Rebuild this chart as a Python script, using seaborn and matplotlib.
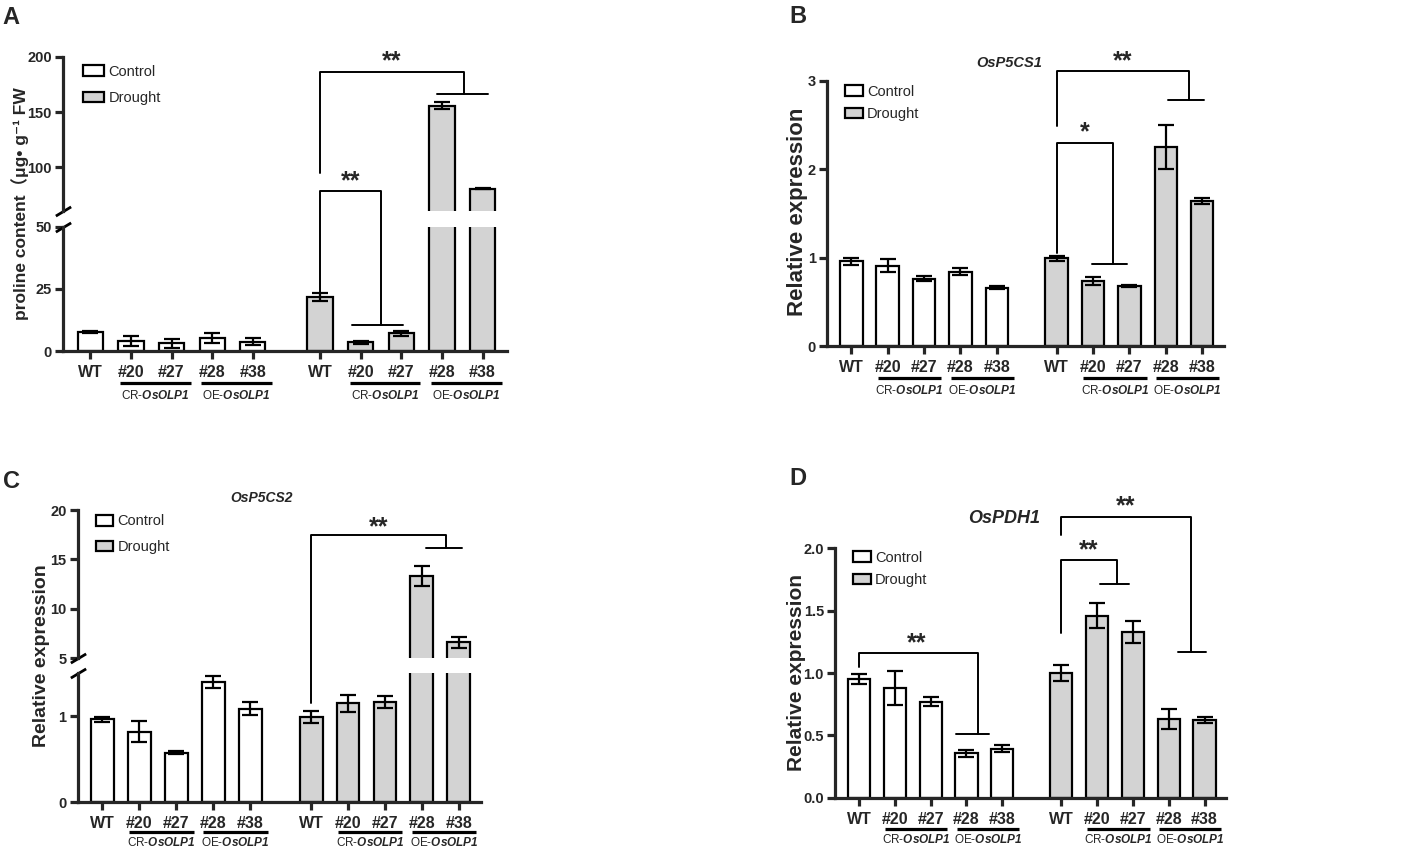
import numpy as np
import pandas as pd
import matplotlib.pyplot as plt
import seaborn as sns
from matplotlib.lines import Line2D
from matplotlib.patches import Patch
from matplotlib.ticker import FormatStrFormatter
from matplotlib.transforms import ScaledTranslation

# ---- data ----
lines = ['WT', '#20', '#27', '#28', '#38']
conditions = ['Control', 'Drought']

proline_ctrl = [7.7, 4.2, 3.2, 5.4, 3.8]
proline_ctrl_err = [0.5, 2.0, 1.8, 2.0, 1.5]
proline_drought = [21.6, 3.5, 7.1, 156.0, 80.8]
proline_drought_err = [1.6, 0.5, 1.0, 3.0, 0.5]

p5cs1_ctrl = [0.96, 0.91, 0.76, 0.84, 0.66]
p5cs1_ctrl_err = [0.04, 0.07, 0.03, 0.04, 0.02]
p5cs1_drought = [0.99, 0.74, 0.68, 2.25, 1.64]
p5cs1_drought_err = [0.03, 0.045, 0.01, 0.25, 0.03]

p5cs2_ctrl = [0.965, 0.82, 0.577, 1.40, 1.09]
p5cs2_ctrl_err = [0.03, 0.12, 0.02, 0.07, 0.08]
p5cs2_drought = [0.99, 1.15, 1.17, 13.32, 6.62]
p5cs2_drought_err = [0.07, 0.095, 0.07, 1.05, 0.57]

pdh1_ctrl = [0.95, 0.88, 0.77, 0.356, 0.394]
pdh1_ctrl_err = [0.04, 0.135, 0.035, 0.03, 0.03]
pdh1_drought = [1.0, 1.46, 1.33, 0.63, 0.626]
pdh1_drought_err = [0.065, 0.10, 0.09, 0.08, 0.025]

# bar slots: control group, gap, drought group
ctrl_pos = [0, 1, 2, 3, 4]
drought_pos = [5.65, 6.65, 7.65, 8.65, 9.65]

# significance brackets: ref x, start, top, drop x, group y, group x0, x1, star x, star y, label
brackets_a = [(5.65, 94.8, 186.4, 9.19, 166.5, 8.54, 9.78, 7.42, 196.0, '**'),
              (5.65, 23.4, 78.5, 7.14, 10.5, 6.44, 7.68, 6.40, 87.0, '**')]
brackets_b = [(5.65, 2.49, 3.11, 9.29, 2.78, 8.72, 9.70, 7.47, 3.22, '**'),
              (5.65, 1.05, 2.29, 7.20, 0.93, 6.63, 7.58, 6.41, 2.42, '*')]
brackets_c = [(5.65, 1.15, 17.47, 9.29, 16.12, 8.75, 9.73, 7.48, 18.2, '**')]
brackets_d = [(0.00, 1.05, 1.158, 3.31, 0.508, 2.71, 3.64, 1.62, 1.24, '**'),
              (5.65, 1.318, 1.91, 7.20, 1.714, 6.74, 7.53, 6.40, 1.985, '**'),
              (5.65, 2.11, 2.25, 9.26, 1.166, 8.92, 9.70, 7.46, 2.335, '**')]

GRAY = '#d3d3d3'
W, H = 1418, 847

sns.set_theme(style='ticks')
plt.rcParams['font.family'] = ['Liberation Sans', 'DejaVu Sans', 'Noto Sans CJK SC']
plt.rcParams['mathtext.fontset'] = 'custom'
plt.rcParams['mathtext.it'] = 'Liberation Sans:italic:bold'
plt.rcParams['mathtext.rm'] = 'Liberation Sans:italic:bold'

fig = plt.figure(figsize=(W / 100, H / 100), dpi=100)


def rect(x0, y0, x1, y1):
    return [x0 / W, 1 - y1 / H, (x1 - x0) / W, (y1 - y0) / H]


def draw_bars(ax, ctrl, ctrl_err, drt, drt_err):
    df = pd.DataFrame({'pos': ctrl_pos + drought_pos,
                       'value': ctrl + drt,
                       'err': ctrl_err + drt_err,
                       'condition': ['Control'] * 5 + ['Drought'] * 5})
    sns.barplot(data=df, x='pos', y='value', hue='condition', native_scale=True,
                palette={'Control': 'white', 'Drought': GRAY}, saturation=1,
                width=0.62, edgecolor='black', linewidth=1.6, errorbar=None,
                legend=False, ax=ax)
    ax.errorbar(df['pos'], df['value'], yerr=df['err'], fmt='none', ecolor='black',
                elinewidth=1.6, capsize=6, capthick=1.6, zorder=3)
    ax.set_xlim(-0.67, 10.25)
    ax.set_xlabel('')
    ax.set_ylabel('')


def style_axis(ax, bottom=True, drops=(0.32, 0.44)):
    sns.despine(ax=ax, bottom=not bottom)
    ax.spines['left'].set_linewidth(2.3)
    ax.spines['bottom'].set_linewidth(2.3)
    ax.tick_params(axis='y', width=2.3, length=6, labelsize=10.5, pad=2)
    for lab in ax.get_yticklabels():
        lab.set_fontweight('bold')
    if bottom:
        ax.set_xticks(ctrl_pos + drought_pos)
        ax.set_xticklabels(lines * 2, fontweight='bold', fontsize=11.5)
        ax.tick_params(axis='x', width=2.3, length=6, pad=4)
        group_labels(ax, *drops)
    else:
        ax.set_xticks([])


def group_labels(ax, line_drop, text_drop):
    line_tr = ax.get_xaxis_transform() + ScaledTranslation(0, -line_drop, fig.dpi_scale_trans)
    text_tr = ax.get_xaxis_transform() + ScaledTranslation(0, -text_drop, fig.dpi_scale_trans)
    for grp in (ctrl_pos, drought_pos):
        for name, (a, b) in (('CR-$\\it{OsOLP1}$', (grp[1], grp[2])),
                             ('OE-$\\it{OsOLP1}$', (grp[3], grp[4]))):
            x0, x1 = a - 0.27, b + 0.47
            ax.plot([x0, x1], [0, 0], color='black', lw=2.3, transform=line_tr,
                    clip_on=False, solid_capstyle='butt')
            ax.text((x0 + x1) / 2, 0, name, transform=text_tr, ha='center', va='center',
                    fontsize=8.5)


def break_marks(lower, upper):
    kw = dict(marker=[(-1, -0.6), (1, 0.6)], markersize=11, linestyle='none',
              color='black', mec='black', mew=2, clip_on=False)
    lower.plot([0], [1], transform=lower.transAxes, **kw)
    upper.plot([0], [0], transform=upper.transAxes, **kw)


def legend(ax, x, y, spacing, hl):
    handles = [Patch(facecolor='white', edgecolor='black', lw=1.6),
               Patch(facecolor=GRAY, edgecolor='black', lw=1.6)]
    ax.legend(handles, conditions, loc='upper left', bbox_to_anchor=(x, y), frameon=False,
              fontsize=10.5, handlelength=hl, handleheight=0.72,
              labelspacing=spacing, handletextpad=0.3, borderpad=0, borderaxespad=0)


def to_fig(axes, x, v):
    ax = axes[0]
    for a in axes[1:]:
        if v >= a.get_ylim()[0]:
            ax = a
    disp = ax.transData.transform((x, v))
    return fig.transFigure.inverted().transform(disp)


def draw_brackets(axes, brackets, star_size=18):
    for xr, y0, yt, xd, yg, g0, g1, sx, sy, lab in brackets:
        pts = [to_fig(axes, xr, y0), to_fig(axes, xr, yt),
               to_fig(axes, xd, yt), to_fig(axes, xd, yg)]
        xs, ys = zip(*pts)
        fig.add_artist(Line2D(xs, ys, color='black', lw=1.4, transform=fig.transFigure))
        a, b = to_fig(axes, g0, yg), to_fig(axes, g1, yg)
        fig.add_artist(Line2D([a[0], b[0]], [a[1], b[1]], color='black', lw=1.4,
                              transform=fig.transFigure))
        s = to_fig(axes, sx, sy)
        fig.text(s[0], s[1], lab, ha='center', va='center', fontsize=star_size,
                 fontweight='bold')


# ---- panel A: proline content, broken axis ----
a_low = fig.add_axes(rect(63, 226.7, 507, 351))
a_up = fig.add_axes(rect(63, 57, 507, 211))
for ax in (a_low, a_up):
    draw_bars(ax, proline_ctrl, proline_ctrl_err, proline_drought, proline_drought_err)
a_low.set_ylim(0, 50)
a_low.set_yticks([0, 25, 50])
a_up.set_ylim(60.5, 200)
a_up.set_yticks([100, 150, 200])
style_axis(a_low)
style_axis(a_up, bottom=False)
break_marks(a_low, a_up)
legend(a_up, 0.045, 0.95, 0.86, 1.44)

# ---- panel B: OsP5CS1 ----
b_ax = fig.add_axes(rect(827, 80.7, 1224, 346))
draw_bars(b_ax, p5cs1_ctrl, p5cs1_ctrl_err, p5cs1_drought, p5cs1_drought_err)
b_ax.set_ylim(0, 3)
b_ax.set_yticks([0, 1, 2, 3])
style_axis(b_ax)
legend(b_ax, 0.045, 0.985, 0.58, 1.22)
b_ax.text(4.35, 3.2, 'OsP5CS1', ha='center', va='center', fontsize=10.5,
          fontweight='bold', fontstyle='italic')

# ---- panel C: OsP5CS2, broken axis ----
c_low = fig.add_axes(rect(77.7, 673.3, 481, 802.3))
c_up = fig.add_axes(rect(77.7, 510, 481, 658.3))
for ax in (c_low, c_up):
    draw_bars(ax, p5cs2_ctrl, p5cs2_ctrl_err, p5cs2_drought, p5cs2_drought_err)
c_low.set_ylim(0, 1.5)
c_low.set_yticks([0, 1])
c_up.set_ylim(5, 20)
c_up.set_yticks([5, 10, 15, 20])
style_axis(c_low, drops=(0.295, 0.405))
style_axis(c_up, bottom=False)
break_marks(c_low, c_up)
legend(c_up, 0.045, 0.97, 0.79, 1.2)
c_up.text(4.3, 21.2, 'OsP5CS2', ha='center', va='center', fontsize=10,
          fontweight='bold', fontstyle='italic')

# ---- panel D: OsPDH1 ----
d_ax = fig.add_axes(rect(835, 548.3, 1226, 797.7))
draw_bars(d_ax, pdh1_ctrl, pdh1_ctrl_err, pdh1_drought, pdh1_drought_err)
d_ax.set_ylim(0, 2)
d_ax.set_yticks([0, 0.5, 1.0, 1.5, 2.0])
d_ax.yaxis.set_major_formatter(FormatStrFormatter('%.1f'))
style_axis(d_ax, drops=(0.31, 0.42))
legend(d_ax, 0.046, 0.99, 0.58, 1.22)
d_ax.text(4.05, 2.24, 'OsPDH1', ha='center', va='center', fontsize=13,
          fontweight='bold', fontstyle='italic')

# ---- brackets, y labels, panel letters ----
draw_brackets([a_low, a_up], brackets_a)
draw_brackets([b_ax], brackets_b)
draw_brackets([c_low, c_up], brackets_c)
draw_brackets([d_ax], brackets_d)

fig.text(20 / W, 1 - 204 / H, 'proline content（μg• g⁻¹ FW', rotation=90,
         ha='center', va='center', fontsize=12.5, fontweight='bold')
fig.text(797 / W, 1 - 212 / H, 'Relative expression', rotation=90,
         ha='center', va='center', fontsize=16, fontweight='bold')
fig.text(41.7 / W, 1 - 656 / H, 'Relative expression', rotation=90,
         ha='center', va='center', fontsize=14, fontweight='bold')
fig.text(796.7 / W, 1 - 672.5 / H, 'Relative expression', rotation=90,
         ha='center', va='center', fontsize=15, fontweight='bold')

for letter, (px, py) in zip('ABCD', [(2, 6), (789, 5), (3, 470), (789, 467)]):
    fig.text(px / W, 1 - py / H, letter, ha='left', va='top', fontsize=17,
             fontweight='bold')

fig.savefig('out.png', dpi=100, facecolor='white')
